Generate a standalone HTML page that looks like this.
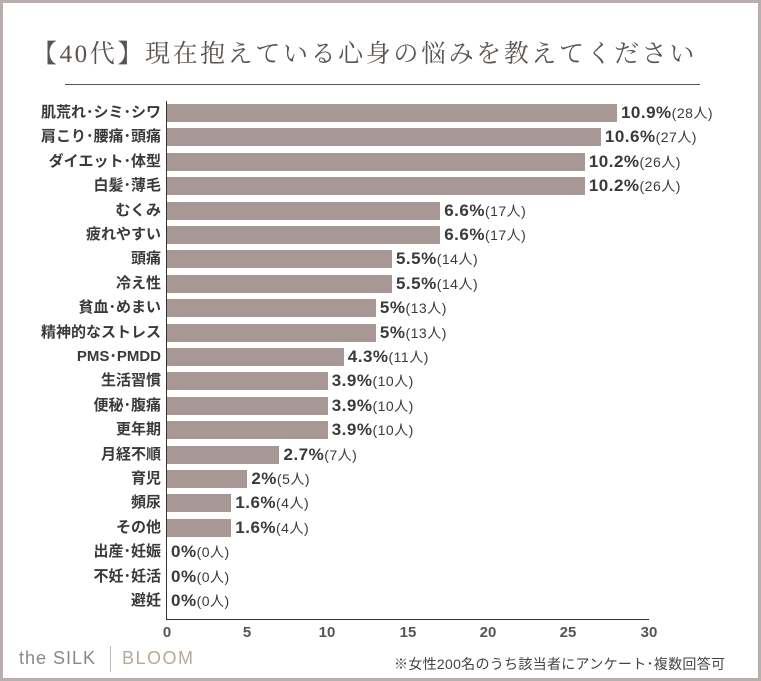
<!DOCTYPE html>
<html><head><meta charset="utf-8"><style>
html,body{margin:0;padding:0;background:#fff}
.f{position:relative;width:761px;height:681px;box-sizing:border-box;border:3px solid #b9aeac;overflow:hidden;font-family:"Liberation Sans","Noto Sans CJK JP",sans-serif;color:#3a3a3a}
.t{position:absolute;left:-16px;width:755px;top:31px;text-align:center;font-family:"Liberation Serif","Noto Serif CJK SC",serif;font-size:25px;color:#5a5450;letter-spacing:2.6px}
.hr{position:absolute;left:62px;top:81px;width:635px;height:1px;background:#555}
.l{position:absolute;right:597px;font-size:15px;font-weight:bold;white-space:nowrap;line-height:18px}
.b{position:absolute;left:164px;height:18px;background:#a79795}
.v{position:absolute;font-size:17px;font-weight:bold;white-space:nowrap;line-height:18px;letter-spacing:0.5px}
.v span{font-size:14px;font-weight:normal;letter-spacing:0.5px}
.ax{position:absolute;background:#333}
.tk{position:absolute;top:621px;font-size:15px;font-weight:bold;width:30px;text-align:center;color:#555}
</style></head><body><div class="f">
<div class="t">【40代】現在抱えている心身の悩みを教えてください</div>
<div class="hr"></div>
<div class="ax" style="left:163px;top:98px;width:1px;height:519px"></div>
<div class="ax" style="left:163px;top:616px;width:483px;height:1px"></div>
<div id="rows"></div>
<div class="tk" style="left:149px">0</div><div class="tk" style="left:229px">5</div><div class="tk" style="left:309px">10</div><div class="tk" style="left:390px">15</div><div class="tk" style="left:470px">20</div><div class="tk" style="left:550px">25</div><div class="tk" style="left:631px">30</div>
<div style="position:absolute;left:16px;top:645px;font-size:18px;color:#888;letter-spacing:1px">the SILK</div>
<div style="position:absolute;left:107px;top:643px;width:1px;height:26px;background:#bbb"></div>
<div style="position:absolute;left:119px;top:645px;font-size:18px;color:#b7a99a;letter-spacing:1.5px">BLOOM</div>
<div style="position:absolute;left:391px;top:651px;font-size:14px;color:#444;letter-spacing:0.3px">※女性200名のうち該当者にアンケート･複数回答可</div>
<script>
var d=[["肌荒れ･シミ･シワ",28,"10.9%"],["肩こり･腰痛･頭痛",27,"10.6%"],["ダイエット･体型",26,"10.2%"],["白髪･薄毛",26,"10.2%"],["むくみ",17,"6.6%"],["疲れやすい",17,"6.6%"],["頭痛",14,"5.5%"],["冷え性",14,"5.5%"],["貧血･めまい",13,"5%"],["精神的なストレス",13,"5%"],["PMS･PMDD",11,"4.3%"],["生活習慣",10,"3.9%"],["便秘･腹痛",10,"3.9%"],["更年期",10,"3.9%"],["月経不順",7,"2.7%"],["育児",5,"2%"],["頻尿",4,"1.6%"],["その他",4,"1.6%"],["出産･妊娠",0,"0%"],["不妊･妊活",0,"0%"],["避妊",0,"0%"]];
var h="";d.forEach(function(r,i){var y=101+i*24.4,w=r[1]*16.07;
h+='<div class="l" style="top:'+y+'px">'+r[0]+'</div>';
if(w)h+='<div class="b" style="top:'+y+'px;width:'+w+'px"></div>';
h+='<div class="v" style="top:'+y+'px;left:'+(168+w)+'px">'+r[2]+'<span>('+r[1]+'人)</span></div>';});
document.getElementById("rows").innerHTML=h;
</script>
</div></body></html>
